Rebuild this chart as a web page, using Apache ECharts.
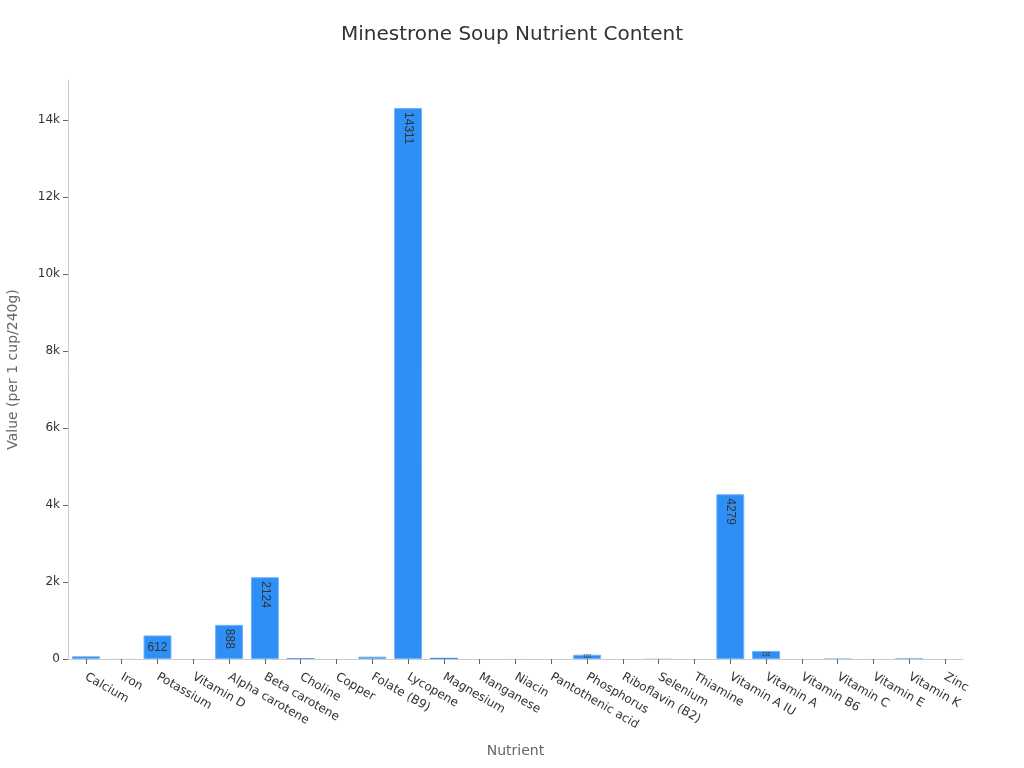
<!DOCTYPE html>
<html>
<head>
<meta charset="utf-8">
<script src="https://cdn.jsdelivr.net/npm/echarts@6/dist/echarts.min.js"></script>
<style>html,body{margin:0;padding:0;background:#fff;}#c{width:1024px;height:768px;}</style>
</head>
<body>
<div id="c"></div>
<script>
var categories = ["Calcium","Iron","Potassium","Vitamin D","Alpha carotene","Beta carotene","Choline","Copper","Folate (B9)","Lycopene","Magnesium","Manganese","Niacin","Pantothenic acid","Phosphorus","Riboflavin (B2)","Selenium","Thiamine","Vitamin A IU","Vitamin A","Vitamin B6","Vitamin C","Vitamin E","Vitamin K","Zinc"];
var values = [70, 2, 612, 0, 888, 2124, 20, 0.2, 60, 14311, 30, 0.3, 1, 0.4, 110, 0.1, 5, 0.1, 4279, 210, 0.2, 10, 1, 15, 0.7];
var yTicks = [0, 2000, 4000, 6000, 8000, 10000, 12000, 14000];

var data = values.map(function (v, i) {
  var d = { value: v };
  if (v >= 800) {
    d.label = { show: true, rotate: -90, position: 'insideTop', distance: 4, fontSize: 12, color: '#333', align: 'left', verticalAlign: 'middle' };
  } else if (v >= 500) {
    d.label = { show: true, position: 'inside', fontSize: 12, color: '#333' };
  } else if (v >= 100) {
    d.label = { show: true, position: 'inside', fontSize: 5, color: '#333' };
  }
  if (v >= 50) {
    d.itemStyle = { borderColor: '#6fb1f7', borderWidth: 1 };
  }
  return d;
});

var chart = echarts.init(document.getElementById('c'));
chart.setOption({
  animation: false,
  title: {
    text: 'Minestrone Soup Nutrient Content',
    left: 'center',
    top: 20,
    textStyle: { fontFamily: 'DejaVu Sans', fontSize: 20, fontWeight: 'normal', color: '#333' }
  },
  grid: { left: 68, right: 61, top: 80, bottom: 109, containLabel: false, outerBoundsMode: 'none' },
  xAxis: {
    type: 'category',
    data: categories,
    name: 'Nutrient',
    nameLocation: 'middle',
    nameGap: 85,
    nameTextStyle: { fontFamily: 'DejaVu Sans', fontSize: 14, color: '#666' },
    axisLine: { lineStyle: { color: '#ccc' } },
    axisTick: { show: true, alignWithLabel: true, length: 5, lineStyle: { color: '#666' } },
    axisLabel: { rotate: -30, interval: 0, fontFamily: 'DejaVu Sans', fontSize: 12, color: '#333', margin: 17 }
  },
  yAxis: {
    type: 'value',
    min: 0,
    max: 15040,
    interval: 2000,
    name: 'Value (per 1 cup/240g)',
    nameLocation: 'middle',
    nameGap: 48,
    nameTextStyle: { fontFamily: 'DejaVu Sans', fontSize: 14, color: '#666' },
    axisLine: { show: true, lineStyle: { color: '#ccc' } },
    axisTick: { show: true, lineStyle: { color: '#666' } },
    splitLine: { show: false },
    axisLabel: {
      fontFamily: 'DejaVu Sans', fontSize: 12, color: '#333',
      showMaxLabel: false,
      formatter: function (v) { return yTicks.indexOf(v) < 0 ? '' : (v === 0 ? '0' : (v / 1000) + 'k'); }
    }
  },
  series: [{
    type: 'bar',
    data: data,
    barWidth: '78%',
    itemStyle: { color: '#2E90F7', borderWidth: 0 }
  }]
});
</script>
</body>
</html>
